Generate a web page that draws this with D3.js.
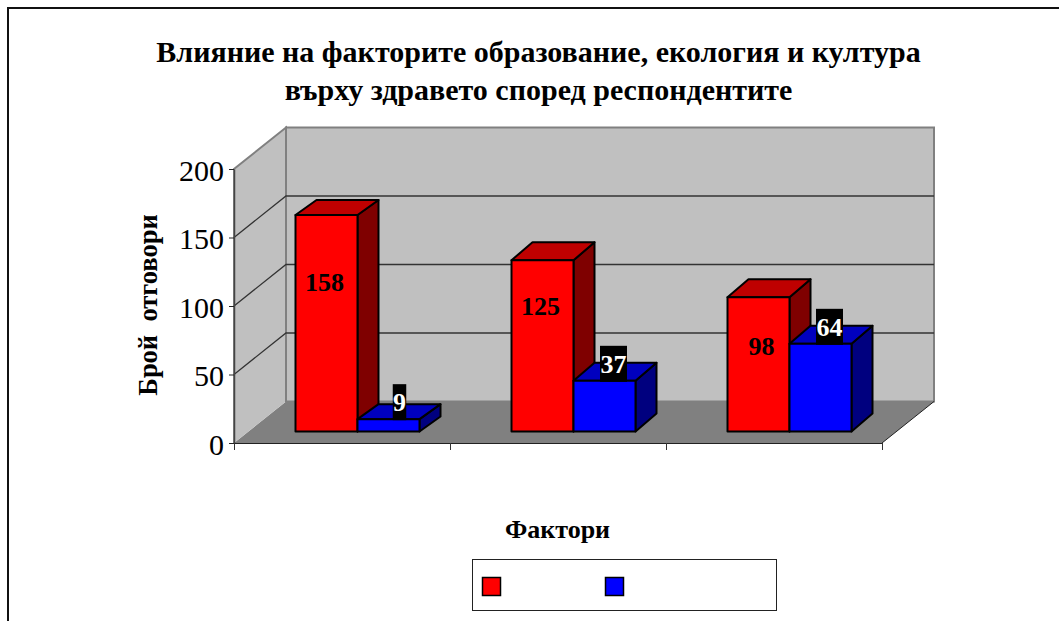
<!DOCTYPE html>
<html>
<head>
<meta charset="utf-8">
<script src="https://cdn.jsdelivr.net/npm/d3@7"></script>
<style>
  html, body { margin: 0; padding: 0; background: #fff; overflow: hidden; }
  text { font-family: "Liberation Serif", serif; fill: #000; }
</style>
</head>
<body>
<div id="chart"></div>
<script>
// chart values
var categories = ["A", "B", "C"];
var seriesNames = ["s1", "s2"];
var series1 = [158, 125, 98];
var series2 = [9, 37, 64];
var yTicks = [0, 50, 100, 150, 200];
var titleLines = ["Влияние на факторите образование, екология и култура", "върху здравето според респондентите"];
var yTitle = "Брой  отговори";
var xTitle = "Фактори";

document.addEventListener('DOMContentLoaded', function () {
  var width = 1059, height = 621;
  var svg = d3.select("#chart").append("svg").attr("width", width).attr("height", height);

  // outer frame, cut off by the picture on the right and at the bottom
  svg.append("path").attr("d", "M8,621V8H1059").attr("fill", "none").attr("stroke", "#111").attr("stroke-width", 2);

  // scales of the front plane
  var x = d3.scaleBand().domain(categories).range([234, 882]);
  var y = d3.scaleLinear().domain([0, 200]).range([443, 169]);

  // depth of the box and of the bars
  var dx = 52, dy = -41.5;
  var barDx = 21;
  var barDy = [-15, -18, -18]; // first group is shallower in the original
  var baseDx = 15.5, baseDy = -11.5;
  var barW = 62;

  // hand placed labels in the original: offsets from the default spot
  var redNudge = [[-2, 0], [-2, -21], [3, -18]];
  var blueNudge = [0, -2, -2];

  var g = svg.append("g");
  var left = x.range()[0], right = x.range()[1];

  // floor
  g.append("path").attr("fill", "#808080").attr("stroke", "none")
    .attr("d", d3.line()([[left, y(0)], [left + dx, y(0) + dy], [right + dx, y(0) + dy], [right, y(0)]]));

  // side wall
  g.append("path").attr("fill", "#c0c0c0").attr("stroke", "#808080").attr("stroke-width", 2)
    .attr("d", d3.line()([[left, y(0)], [left, y(200)], [left + dx, y(200) + dy], [left + dx, y(0) + dy]]));

  // back wall
  g.append("rect").attr("x", left + dx).attr("y", y(200) + dy)
    .attr("width", right - left).attr("height", y(0) - y(200))
    .attr("fill", "#c0c0c0").attr("stroke", "#808080").attr("stroke-width", 2);

  // gridlines
  yTicks.slice(1, -1).forEach(function (t) {
    g.append("path").attr("fill", "none").attr("stroke", "#333").attr("stroke-width", 1.3)
      .attr("d", d3.line()([[left, y(t)], [left + dx, y(t) + dy], [right + dx, y(t) + dy]]));
  });

  // axes
  var yAxis = d3.axisLeft(y).tickValues(yTicks).tickSize(5).tickSizeOuter(0).tickPadding(5);
  var ya = svg.append("g").attr("transform", "translate(" + left + ",0)").call(yAxis);
  ya.select(".domain").attr("stroke", "#444").attr("stroke-width", 1.5);
  ya.selectAll("line").attr("stroke", "#222");
  ya.selectAll("text").attr("font-size", 30).attr("dy", "0.38em").style("font-family", '"Liberation Serif", serif').attr("fill", "#000");

  var xAxis = d3.axisBottom(d3.scaleLinear().domain([0, 3]).range([left, right])).ticks(3).tickSize(7).tickFormat("");
  var xa = svg.append("g").attr("transform", "translate(0," + y(0) + ")").call(xAxis);
  xa.select(".domain").attr("stroke", "#222").attr("stroke-width", 1);
  xa.selectAll("line").attr("stroke", "#333");

  // floor edge on the right
  g.append("path").attr("fill", "none").attr("stroke", "#222")
    .attr("d", d3.line()([[right, y(0)], [right + dx, y(0) + dy]]));

  // one 3d bar
  function drawBar(x0, value, depth, front, top, side) {
    var yb = y(0) + baseDy, yt = y(value) + baseDy;
    var x1 = x0 + barW;
    var bar = svg.append("g").attr("stroke", "#000").attr("stroke-width", 2).attr("stroke-linejoin", "round");
    bar.append("path").attr("fill", side)
      .attr("d", d3.line()([[x1, yb], [x1 + barDx, yb + depth], [x1 + barDx, yt + depth], [x1, yt]]) + "Z");
    bar.append("path").attr("fill", top)
      .attr("d", d3.line()([[x0, yt], [x0 + barDx, yt + depth], [x1 + barDx, yt + depth], [x1, yt]]) + "Z");
    bar.append("rect").attr("x", x0).attr("y", yt).attr("width", barW).attr("height", yb - yt).attr("fill", front);
  }

  categories.forEach(function (c, i) {
    var mid = x(c) + x.bandwidth() / 2 + baseDx;
    drawBar(mid - barW, series1[i], barDy[i], "#ff0000", "#bf0000", "#7f0000");
    drawBar(mid, series2[i], barDy[i], "#0000ff", "#0000bf", "#00007f");
  });

  // value labels
  categories.forEach(function (c, i) {
    var mid = x(c) + x.bandwidth() / 2 + baseDx;
    svg.append("text")
      .attr("x", mid - barW / 2 + redNudge[i][0])
      .attr("y", y(series1[i]) + baseDy + 76 + redNudge[i][1])
      .attr("text-anchor", "middle").attr("font-size", 26).attr("font-weight", "bold")
      .text(series1[i]);
  });
  categories.forEach(function (c, i) {
    var mid = x(c) + x.bandwidth() / 2 + baseDx;
    var cx = mid + barW / 2 + 11 + blueNudge[i];
    var yt = y(series2[i]) + baseDy;
    var w = String(series2[i]).length * 13.5;
    svg.append("rect").attr("x", cx - w / 2).attr("y", yt - 35).attr("width", w).attr("height", 36).attr("fill", "#000");
    svg.append("text").attr("x", cx).attr("y", yt - 8)
      .attr("text-anchor", "middle").attr("font-size", 26).attr("font-weight", "bold")
      .style("fill", "#fff").text(series2[i]);
  });

  // titles
  svg.selectAll(".title").data(titleLines).enter().append("text").attr("class", "title")
    .attr("x", 538.5).attr("y", function (d, i) { return 62 + i * 38; })
    .attr("text-anchor", "middle").attr("font-size", 30).attr("font-weight", "bold")
    .text(function (d) { return d; });

  svg.append("text").attr("transform", "translate(157,305) rotate(-90)")
    .attr("text-anchor", "middle").attr("font-size", 26.5).attr("font-weight", "bold")
    .style("white-space", "pre").text(yTitle);

  svg.append("text").attr("x", 557.5).attr("y", 538)
    .attr("text-anchor", "middle").attr("font-size", 26).attr("font-weight", "bold").text(xTitle);

  // legend, its labels are empty in the original
  var lg = svg.append("g");
  lg.append("rect").attr("x", 472.5).attr("y", 559.5).attr("width", 304).attr("height", 51)
    .attr("fill", "#fff").attr("stroke", "#222");
  var legendX = d3.scalePoint().domain(seriesNames).range([482, 605]);
  lg.selectAll(".sw").data(seriesNames).enter().append("rect").attr("class", "sw")
    .attr("x", function (d) { return legendX(d) + 0.5; }).attr("y", 577.5)
    .attr("width", 18).attr("height", 18)
    .attr("fill", function (d, i) { return i ? "#0000ff" : "#ff0000"; })
    .attr("stroke", "#000").attr("stroke-width", 1.5);
});
</script>
</body>
</html>
